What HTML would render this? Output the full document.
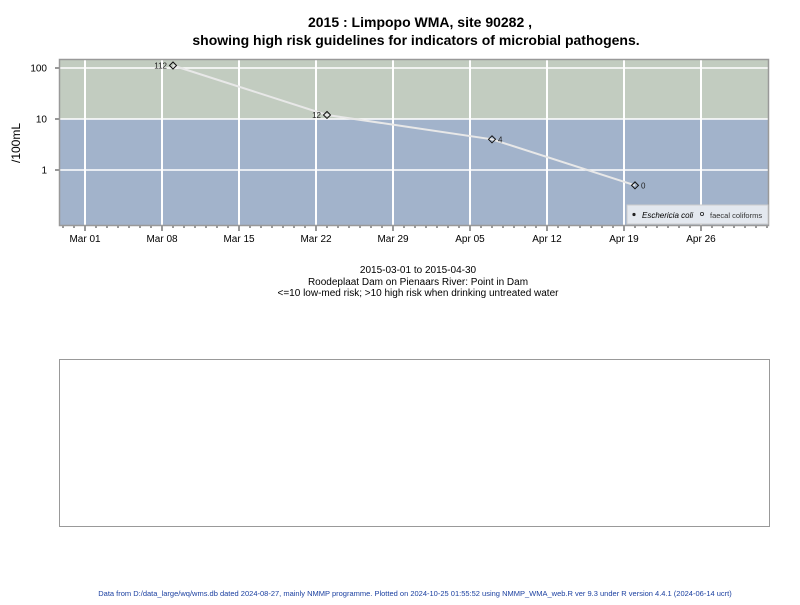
<!DOCTYPE html>
<html><head><meta charset="utf-8"><style>
body{margin:0;background:#fff;font-family:"Liberation Sans",Arial,sans-serif}
svg text{font-family:"Liberation Sans",Arial,sans-serif}
</style></head><body>
<svg width="800" height="600" viewBox="0 0 800 600">
<text x="420" y="27" text-anchor="middle" font-size="14" font-weight="bold">2015 : Limpopo WMA, site 90282 ,</text>
<text x="416" y="45" text-anchor="middle" font-size="14" font-weight="bold">showing high risk guidelines for indicators of microbial pathogens.</text>
<g id="plot"></g>
<text transform="translate(20,143) rotate(-90)" text-anchor="middle" font-size="12">/100mL</text>
<text x="418" y="273" text-anchor="middle" font-size="10">2015-03-01 to 2015-04-30</text>
<text x="418" y="285" text-anchor="middle" font-size="10">Roodeplaat Dam on Pienaars River: Point in Dam</text>
<text x="418" y="296" text-anchor="middle" font-size="10">&lt;=10 low-med risk; &gt;10 high risk when drinking untreated water</text>
<rect x="59.5" y="359.5" width="710" height="167" fill="none" stroke="#999"/>
<text x="415" y="596" text-anchor="middle" font-size="7.5" fill="#1a3fa0">Data from D:/data_large/wq/wms.db dated 2024-08-27, mainly NMMP programme. Plotted on 2024-10-25 01:55:52 using NMMP_WMA_web.R ver 9.3 under R version 4.4.1 (2024-06-14 ucrt)</text>
</svg>
<script>
const dayOffsets=[8,22,37,50];
const values=[112,12,4,0.5];
const valueLabels=["112","12","4","0"];
const tickDays=[0,7,14,21,28,35,42,49,56];
const tickLabels=["Mar 01","Mar 08","Mar 15","Mar 22","Mar 29","Apr 05","Apr 12","Apr 19","Apr 26"];
const yTicks=[1,10,100];
const yTickLabels=["1","10","100"];
const NS="http://www.w3.org/2000/svg";
const L=59,R=769,T=59,B=226;
const xs=d=>85+d*11;
const ys=v=>170-Math.log10(v)*51;
const g=document.getElementById('plot');
function mk(t,a,p){const e=document.createElementNS(NS,t);for(const k in a)e.setAttribute(k,a[k]);(p||g).appendChild(e);return e;}
let e;
e=mk('rect',{x:L,y:T,width:R-L,height:ys(10)-T,fill:'#c2ccc0'});


e=mk('rect',{x:L,y:ys(10),width:R-L,height:B-ys(10),fill:'#a2b3cb'});


tickDays.forEach((d,i)=>{
 e=mk('line',{x1:xs(d),x2:xs(d),y1:T,y2:B,stroke:'#fff','stroke-width':2});
 
 
 e=mk('line',{x1:xs(d),x2:xs(d),y1:B,y2:B+5,stroke:'#333'});
 
 
 e=mk('text',{x:xs(d),y:B+16,'text-anchor':'middle','font-size':10});
 e.textContent=tickLabels[i];
 
 
});
for(let d=-2;d<=62;d++){ if(xs(d)<L||xs(d)>R)continue;
 e=mk('line',{x1:xs(d),x2:xs(d),y1:B,y2:B+2,stroke:'#333'});
 
 
}
yTicks.forEach((v,i)=>{
 e=mk('line',{x1:L,x2:R,y1:ys(v),y2:ys(v),stroke:'#fff','stroke-width':1.5});
 
 
 e=mk('line',{x1:L-4,x2:L,y1:ys(v),y2:ys(v),stroke:'#333'});
 
 
 e=mk('text',{x:L-12,y:ys(v)+3.5,'text-anchor':'end','font-size':10});
 e.textContent=yTickLabels[i];
 
 
});
e=mk('rect',{x:L+0.5,y:T+0.5,width:R-L-1,height:B-T-1,fill:'none',stroke:'#999','stroke-width':1.5});


e=mk('polyline',{points:dayOffsets.map((d,i)=>xs(d)+','+ys(values[i])).join(' '),fill:'none',stroke:'#e8e8e8','stroke-width':2});


dayOffsets.forEach((d,i)=>{
 const x=xs(d),y=ys(values[i]);
 e=mk('path',{d:`M${x-3.5},${y}L${x},${y-3.5}L${x+3.5},${y}L${x},${y+3.5}Z`,fill:'none',stroke:'#111'});
 
 
 const left=i<2;
 e=mk('text',{x:left?x-6:x+6,y:y+3,'text-anchor':left?'end':'start','font-size':8,fill:'#222'});
 e.textContent=valueLabels[i];
 
 
});
const lg=mk('g',{});


mk('rect',{x:627,y:205,width:141,height:19,fill:'#e3e8ef',stroke:'#ccc'},lg);
mk('circle',{cx:634,cy:214.5,r:1.6,fill:'#222'},lg);
e=mk('text',{x:642,y:218,'font-size':8,'font-style':'italic'},lg);e.textContent='Eschericia coli';


mk('circle',{cx:702,cy:214,r:1.6,fill:'none',stroke:'#222','stroke-width':0.8},lg);
e=mk('text',{x:710,y:218,'font-size':7.5,fill:'#333'},lg);e.textContent='faecal coliforms';


</script>
</body></html>
